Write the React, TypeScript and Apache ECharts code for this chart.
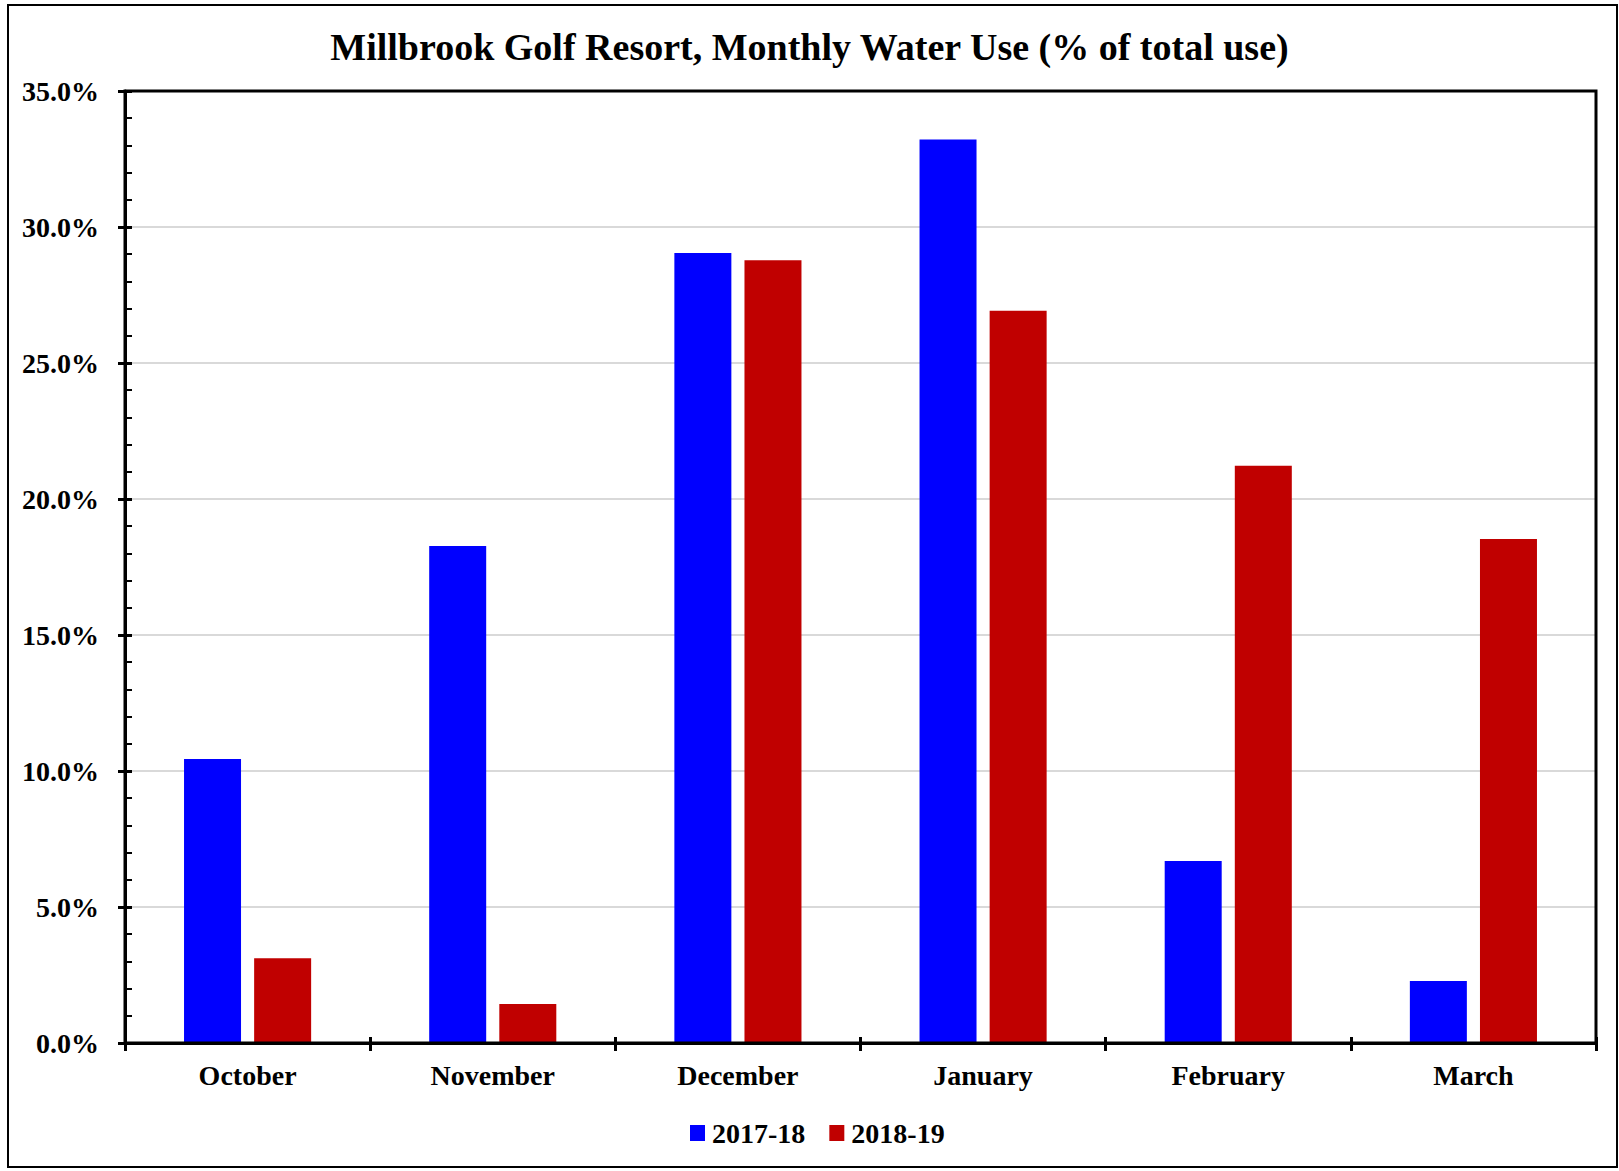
import React, { useEffect, useRef } from "react";
import * as echarts from "echarts";

const months = ["October", "November", "December", "January", "February", "March"];
const use2017_18 = [10.44, 18.27, 29.04, 33.22, 6.69, 2.28];
const use2018_19 = [3.12, 1.43, 28.78, 26.92, 21.22, 18.53];
const seriesNames = ["2017-18", "2018-19"];
const titleText = "Millbrook Golf Resort, Monthly Water Use (% of total use)";

const FONT = "'Liberation Serif', 'Times New Roman', serif";

export default function App() {
  const ref = useRef<HTMLDivElement>(null);
  useEffect(() => {
    const chart = echarts.init(ref.current!, null, { renderer: "svg" });
    const gridBox = { left: 125, top: 91, right: 23, bottom: 128 };
    chart.setOption({
      animation: false,
      backgroundColor: "#ffffff",
      title: {
        text: titleText,
        left: "center",
        top: 23,
        textStyle: { fontFamily: FONT, fontWeight: "bold", fontSize: 38, color: "#000" },
      },
      legend: {
        left: 685,
        top: 1114,
        itemWidth: 15,
        itemHeight: 16,
        itemGap: 24,
        icon: "rect",
        data: seriesNames,
        textStyle: { fontFamily: FONT, fontWeight: "bold", fontSize: 28, color: "#000", padding: [0, 0, 0, 2] },
      },
      graphic: [
        {
          type: "rect",
          shape: { x: 8, y: 5, width: 1609, height: 1162 },
          style: { fill: "none", stroke: "#000", lineWidth: 2 },
          silent: true,
        },
        {
          type: "rect",
          shape: { x: 125, y: 91, width: 1471, height: 952 },
          style: { fill: "none", stroke: "#000", lineWidth: 3 },
          silent: true,
          z: 100,
        },
      ],
      grid: { ...gridBox },
      xAxis: [
        {
          type: "category",
          data: months,
          position: "bottom",
          axisLine: { lineStyle: { color: "#000", width: 3 } },
          axisTick: { show: true, length: 8, lineStyle: { color: "#000", width: 3 } },
          axisLabel: { fontFamily: FONT, fontWeight: "bold", fontSize: 28, color: "#000", margin: 18 },
        },
        {
          type: "category",
          data: months,
          position: "bottom",
          axisLine: { show: false },
          axisTick: { show: true, inside: true, length: 6, lineStyle: { color: "#000", width: 3 } },
          axisLabel: { show: false },
        },
      ],
      yAxis: [
        {
          type: "value",
          min: 0,
          max: 35,
          interval: 5,
          position: "left",
          axisLine: { show: true, lineStyle: { color: "#000", width: 3 } },
          axisTick: { show: true, length: 7, lineStyle: { color: "#000", width: 3 } },
          minorTick: { show: false },
          splitLine: { show: true, lineStyle: { color: "#d9d9d9", width: 2 } },
          axisLabel: {
            fontFamily: FONT,
            fontWeight: "bold",
            fontSize: 28,
            color: "#000",
            margin: 26,
            formatter: (v: number) => v.toFixed(1) + "%",
          },
        },
        {
          type: "value",
          min: 0,
          max: 35,
          interval: 5,
          position: "left",
          axisLine: { show: false },
          axisTick: { show: true, inside: true, length: 7, lineStyle: { color: "#000", width: 3 } },
          minorTick: { show: true, splitNumber: 5, length: 7, lineStyle: { color: "#000", width: 2 } },
          splitLine: { show: false },
          axisLabel: { show: false },
        },
      ],
      series: [
        {
          name: seriesNames[0],
          type: "bar",
          data: use2017_18,
          barWidth: 57,
          barGap: "23%",
          itemStyle: { color: "#0000ff" },
        },
        {
          name: seriesNames[1],
          type: "bar",
          data: use2018_19,
          barWidth: 57,
          itemStyle: { color: "#c00000" },
        },
      ],
    });
    return () => chart.dispose();
  }, []);
  return (
    <div
      ref={ref}
      style={{ position: "fixed", left: 0, top: 0, width: 1619, height: 1171 }}
    />
  );
}
